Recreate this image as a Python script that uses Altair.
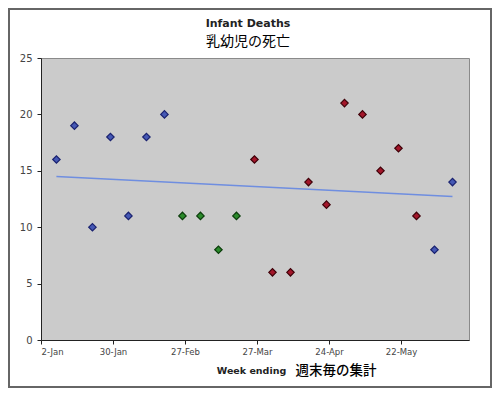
import altair as alt
import pandas as pd

dates = ["2005/01/08", "2005/01/15", "2005/01/22", "2005/01/29", "2005/02/05",
         "2005/02/12", "2005/02/19", "2005/02/26", "2005/03/05", "2005/03/12",
         "2005/03/19", "2005/03/26", "2005/04/02", "2005/04/09", "2005/04/16",
         "2005/04/23", "2005/04/30", "2005/05/07", "2005/05/14", "2005/05/21",
         "2005/05/28", "2005/06/04", "2005/06/11"]
deaths = [16, 19, 10, 18, 11, 18, 20, 11, 11, 8, 11, 16, 6, 6, 14, 12, 21, 20, 15, 17, 11, 8, 14]
groups = ["a"] * 7 + ["b"] * 4 + ["c"] * 10 + ["a"] * 2

group_domain = ["a", "b", "c"]
fill_colors = ["#4558b4", "#2b8a2b", "#a3162a"]
stroke_colors = ["#1a2270", "#0b3d0b", "#3f0008"]

tick_dates = [alt.DateTime(year=2005, month=m, date=d) for m, d in
              [(1, 2), (1, 30), (2, 27), (3, 27), (4, 24), (5, 22)]]

df = pd.DataFrame({"date": dates, "deaths": deaths, "group": groups})

x_enc = alt.X("date:T",
              scale=alt.Scale(domain=[alt.DateTime(year=2005, month=1, date=2),
                                      alt.DateTime(year=2005, month=6, date=17, hours=10)]),
              axis=alt.Axis(values=tick_dates, format="%-d-%b", title="Week ending",
                            titleFont="DejaVu Sans", titleFontWeight="bold", titleFontSize=9.5,
                            titleColor="#222", titleX=210, titleY=25, titleAlign="center",
                            labelFont="DejaVu Sans", labelFontSize=8.5, labelColor="#444",
                            labelPadding=3, tickSize=4, tickColor="#222", domainColor="#222",
                            grid=False))
y_enc = alt.Y("deaths:Q",
              scale=alt.Scale(domain=[0, 25]),
              axis=alt.Axis(values=[0, 5, 10, 15, 20, 25], title=None,
                            labelFont="DejaVu Sans", labelFontSize=10, labelColor="#444",
                            labelPadding=5, tickSize=4, tickColor="#222", domainColor="#222",
                            grid=False))

base = alt.Chart(df)

trend = base.transform_regression("date", "deaths").mark_line(
    color="#6f8ee0", strokeWidth=1.5).encode(x=x_enc, y=y_enc)

points = base.mark_point(shape="diamond", size=55, filled=True, strokeWidth=1.2, opacity=1).encode(
    x=x_enc, y=y_enc,
    fill=alt.Fill("group:N", scale=alt.Scale(domain=group_domain, range=fill_colors), legend=None),
    stroke=alt.Stroke("group:N", scale=alt.Scale(domain=group_domain, range=stroke_colors), legend=None),
)

jp_label = alt.Chart(alt.Data(values=[{"t": "週末毎の集計"}])).mark_text(
    font="Noto Sans CJK JP", fontSize=13.5, fontWeight=500, color="#000", align="center", baseline="middle"
).encode(text="t:N", x=alt.value(295), y=alt.value(313))

frame = alt.Chart(alt.Data(values=[{}])).mark_rect(
    filled=False, stroke="#666", strokeWidth=2
).encode(x=alt.value(-32), x2=alt.value(450), y=alt.value(-49), y2=alt.value(329))

chart = alt.layer(trend, points, jp_label, frame).properties(
    width=428, height=282,
    autosize=alt.AutoSizeParams(type="none"),
    padding={"left": 33, "top": 50, "right": 23, "bottom": 48},
    background="white",
    title=alt.TitleParams(
        text="Infant Deaths", subtitle="乳幼児の死亡",
        font="DejaVu Sans", fontSize=11, fontWeight="bold", color="#222",
        subtitleFont="Noto Sans CJK JP", subtitleFontSize=14, subtitleColor="#000",
        subtitlePadding=6, anchor="middle", dx=-7, offset=-41,
    ),
).configure_view(fill="#cbcbcb", stroke="#8a8a8a", strokeWidth=1)

chart.save("out.html", embed_options={"renderer": "svg", "actions": False})
